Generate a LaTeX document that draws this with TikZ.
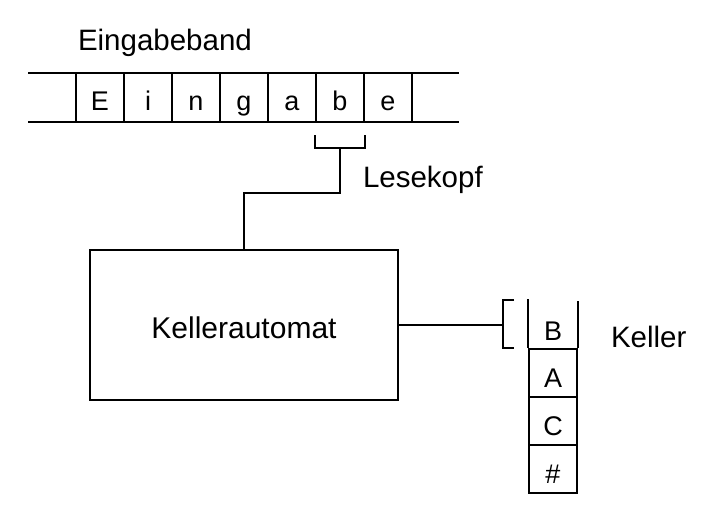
\documentclass[tikz,border=0pt]{standalone}
\usepackage{fontspec}
\setmainfont{Liberation Sans}
\usetikzlibrary{positioning}
\begin{document}
\begin{tikzpicture}[x=1pt,y=-1pt,line width=2pt,
  cell/.style={draw,minimum width=48pt,minimum height=48pt,inner sep=0pt,text height=29pt,text depth=0pt,font=\fontsize{27}{32}\selectfont},
  lbl/.style={inner sep=0pt,font=\fontsize{29.5}{34}\selectfont}]
\useasboundingbox (0,0) rectangle (715,512);
% Eingabeband
\draw (28,73) -- (459,73) (28,122) -- (459,122);
\foreach \x/\1 in %
{0/E,1/i,2/n,3/g,4/a,5/b,6/e} {
   \node[cell,minimum height=49pt,text height=25pt] (t\x) at (100+48*\x,97.5) {\1};
}
\node[lbl,anchor=base west] (band) at (77,50) {Eingabeband};
% Lesekopf
\draw ([yshift=-12pt]t5.south west) -- ++(0,13) coordinate (kopf) -| ([yshift=-12pt]t5.south east);
\node[lbl,anchor=base west] (lese) at (362,187) {Lesekopf};
% Kellerautomat
\node[draw,minimum width=308pt,minimum height=150pt,inner sep=0pt,text height=27pt,text depth=0pt,font=\fontsize{30}{34}\selectfont] (auto) at (244,324.5) {Kellerautomat};
\draw (t5.south |- kopf) -- ++(0,45) -| (auto.north);
% Keller
\node[cell,draw=none,minimum height=49pt,text height=31pt] (s0) at (553,324.5) {B};
\foreach \y/\1 in %
{1/A,2/C,3/\#} {
   \node[cell] (s\y) at (553,325+48*\y) {\1};
}
\draw (s1.north west) -- ++(0,-49) (s1.north east) -- ++(0,-47);
\coordinate (zugriff) at (503,324.5);
\draw (auto.east) -- (zugriff);
\draw (514,300) -- (503,300) -- (503,348) -- (514,348);
\node[lbl,anchor=base west] (keller) at (610,347) {Keller};
\end{tikzpicture}
\end{document}
